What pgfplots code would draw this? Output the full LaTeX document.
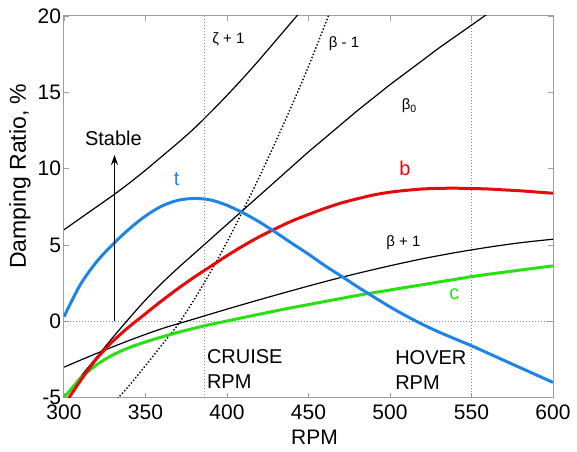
\documentclass[border=0pt]{standalone}
\usepackage{fontspec}
\setmainfont{Liberation Sans}
\usepackage{pgfplots}
\pgfplotsset{compat=1.18}
\usetikzlibrary{arrows.meta}
\definecolor{cblue}{RGB}{30,132,230}
\definecolor{cred}{RGB}{230,10,10}
\definecolor{cgreen}{RGB}{40,225,20}
\begin{document}
\begin{tikzpicture}
\begin{axis}[name=ax, width=244.5pt, height=190.85pt, scale only axis,
  xmin=300, xmax=600, ymin=-5, ymax=20,
  xtick={300,350,...,600}, ytick={-5,0,...,20},
  tick align=inside, major tick length=2.5pt,
  axis line style={gray!75, line width=0.5pt},
  tick style={gray!75, line width=0.4pt},
  /pgf/number format/assume math mode=true,
  ticklabel style={font=\fontsize{10.5}{12}\selectfont},
  yticklabel style={xshift=2pt},
  xlabel={RPM}, ylabel={Damping Ratio, \%},
  every axis x label/.style={at={(axis description cs:0.5,0)}, anchor=center, yshift=-20pt, xshift=3pt, font=\fontsize{10.5}{12}\selectfont},
  every axis y label/.style={at={([xshift=-22pt]axis description cs:0,0.58)}, anchor=center, rotate=90, font=\fontsize{11.5}{13}\selectfont},
  every axis plot/.append style={smooth, tension=0.5},
  clip=true]
% reference lines
\addplot[gray, densely dotted, line width=0.5pt, sharp plot] coordinates {(386,-5) (386,20)};
\addplot[gray, densely dotted, line width=0.5pt, sharp plot] coordinates {(550,-5) (550,20)};
\addplot[gray, densely dotted, line width=0.5pt, sharp plot] coordinates {(300,0) (600,0)};
% zeta+1
\addplot[black, line width=0.6pt] coordinates {
(300,6.0)(310,6.75)(320,7.5)(330,8.25)(340,9.05)(350,9.9)(360,10.8)(370,11.7)(380,12.65)(390,13.7)(400,14.8)(410,15.95)(420,17.15)(430,18.4)(440,19.65)(450,20.9)};
% beta0
\addplot[black, line width=0.6pt] coordinates {
(300,-5.0)(310,-3.65)(320,-2.35)(330,-1.05)(340,0.2)(350,1.4)(360,2.5)(370,3.5)(380,4.45)(390,5.4)(400,6.35)(410,7.3)(420,8.25)(430,9.2)(440,10.15)(450,11.1)(460,12.0)(470,12.9)(480,13.8)(490,14.65)(500,15.5)(510,16.3)(520,17.1)(530,17.9)(540,18.65)(550,19.4)(560,20.15)(570,20.9)};
% beta-1
\addplot[black, densely dotted, line width=0.7pt] coordinates {
(330,-5.4)(340,-4.2)(350,-2.9)(360,-1.55)(370,-0.2)(380,1.45)(390,3.25)(400,5.2)(410,7.3)(420,9.5)(430,11.8)(440,14.2)(450,16.7)(460,19.4)(470,22.2)};
% beta+1
\addplot[black, line width=0.6pt] coordinates {
(300,-3.0)(320,-2.1)(340,-1.25)(360,-0.48)(380,0.16)(400,0.8)(420,1.42)(440,2.02)(460,2.6)(480,3.14)(500,3.64)(520,4.1)(540,4.5)(560,4.85)(580,5.15)(600,5.38)};
% c green
\addplot[cgreen, line width=1.5pt] coordinates {
(300,-5.0)(310,-3.75)(320,-2.85)(330,-2.2)(340,-1.72)(350,-1.35)(360,-1.02)(370,-0.72)(380,-0.45)(390,-0.2)(400,0.02)(410,0.25)(420,0.47)(430,0.69)(440,0.9)(450,1.1)(460,1.3)(470,1.5)(480,1.7)(490,1.88)(500,2.05)(510,2.23)(520,2.4)(530,2.58)(540,2.75)(550,2.93)(560,3.08)(570,3.22)(580,3.36)(590,3.5)(600,3.63)};
% b red
\addplot[cred, line width=1.5pt] coordinates {
(300,-5.5)(310,-3.9)(320,-2.45)(330,-1.3)(340,-0.35)(350,0.5)(360,1.35)(370,2.15)(380,2.9)(390,3.6)(400,4.3)(410,4.95)(420,5.55)(430,6.08)(440,6.58)(450,7.0)(460,7.4)(470,7.75)(480,8.03)(490,8.28)(500,8.46)(510,8.58)(520,8.67)(530,8.71)(540,8.72)(550,8.7)(560,8.67)(570,8.61)(580,8.55)(590,8.47)(600,8.39)};
% t blue
\addplot[cblue, line width=1.5pt] coordinates {
(300,0.3)(310,2.4)(320,3.9)(330,5.05)(340,6.05)(350,6.9)(360,7.55)(370,7.93)(380,8.05)(390,7.95)(400,7.6)(410,7.1)(420,6.5)(430,5.82)(440,5.1)(450,4.4)(460,3.65)(470,2.97)(480,2.27)(490,1.6)(500,0.95)(510,0.35)(520,-0.2)(530,-0.7)(540,-1.15)(550,-1.6)(560,-2.08)(570,-2.56)(580,-3.04)(590,-3.52)(600,-4.0)};
% stable arrow
\addplot[black, line width=0.8pt, sharp plot, -{Stealth[length=5pt,width=3.5pt]}] coordinates {(331,0) (331,10.9)};
% labels
\node[font=\fontsize{10}{12}\selectfont] at (axis cs:330.3,12.0) {Stable};
\node[font=\fontsize{7.5}{9}\selectfont] at (axis cs:400.9,18.5) {ζ + 1};
\node[font=\fontsize{7.5}{9}\selectfont] at (axis cs:471.8,18.2) {β - 1};
\node[font=\fontsize{7.5}{9}\selectfont] at (axis cs:512,14.1) {β\textsubscript{0}};
\node[font=\fontsize{7.5}{9}\selectfont] at (axis cs:508.2,5.15) {β + 1};
\node[font=\fontsize{10}{12}\selectfont, text=cblue] at (axis cs:369.1,9.3) {t};
\node[font=\fontsize{10}{12}\selectfont, text=cred] at (axis cs:509.2,10.0) {b};
\node[font=\fontsize{10}{12}\selectfont, text=cgreen] at (axis cs:539.5,1.8) {c};
\node[font=\fontsize{10}{12.5}\selectfont, anchor=west, align=left, inner sep=0pt] at (axis cs:387.5,-3.13) {CRUISE\\RPM};
\node[font=\fontsize{10}{12.5}\selectfont, anchor=west, align=left, inner sep=0pt] at (axis cs:503,-3.18) {HOVER\\RPM};
\end{axis}
\pgfresetboundingbox
\path ([xshift=-32pt,yshift=-27.15pt]ax.south west) rectangle ([xshift=12pt,yshift=8pt]ax.north east);
\end{tikzpicture}
\end{document}
